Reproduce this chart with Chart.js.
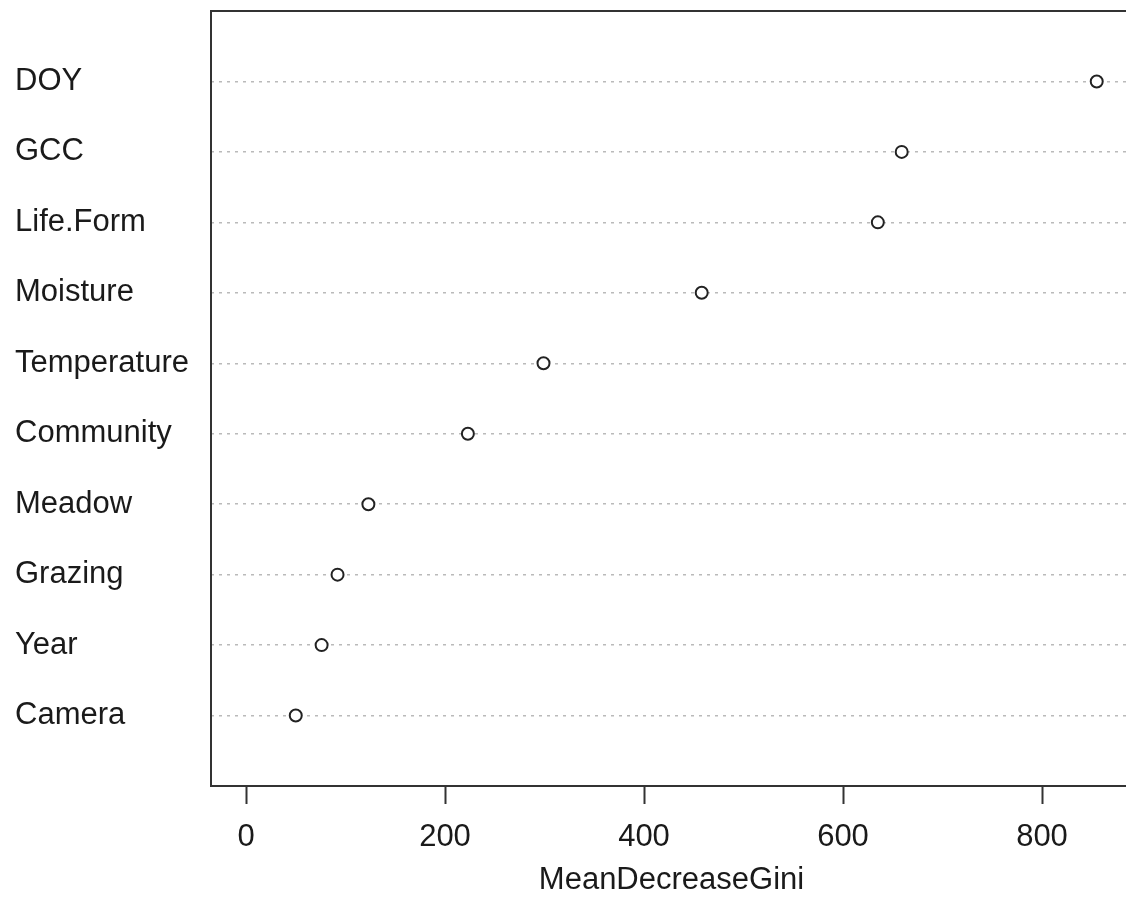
<!DOCTYPE html>
<html>
  <head>
    <meta charset="utf-8">
    <title>MeanDecreaseGini</title>
    <script src="https://cdn.jsdelivr.net/npm/chart.js@4.4.1/dist/chart.umd.min.js"></script>
    <style>
      html, body { margin: 0; padding: 0; background: #fff; overflow: hidden; }
      #wrap { width: 1140px; height: 901px; }
    </style>
  </head>
  <body>
    <div id="wrap"><canvas id="gini" width="1140" height="901" style="width:1140px;height:901px"></canvas></div>

    <script type="text/javascript">
      // variables, bottom to top as in the dotchart
      var variables = ["Camera", "Year", "Grazing", "Meadow", "Community",
                       "Temperature", "Moisture", "Life.Form", "GCC", "DOY"];
      var giniValues = [50, 76, 92, 123, 223, 299, 458, 635, 659, 855];
      var xTicks = [0, 200, 400, 600, 800];

      var FONT = "'Liberation Sans', Arial, sans-serif";
      var TEXT = "#1a1a1a";
      // pixel of x = 0 and pixels per unit in the original plot
      var X0_PX = 246;
      var PX_PER_UNIT = 0.995;

      var points = [];
      for (var i = 0 ; i != variables.length ; ++i) {
        points.push({x: giniValues[i], y: i + 1});
      }

      // plot box around the chart area, like R's box()
      var boxPlugin = {
        id: "box",
        afterDraw: function(chart) {
          var a = chart.chartArea;
          var ctx = chart.ctx;
          ctx.save();
          ctx.strokeStyle = "#333";
          ctx.lineWidth = 2;
          ctx.strokeRect(a.left, a.top, a.right - a.left, a.bottom - a.top);
          ctx.restore();
        }
      };

      function noPadding(scale) {
        scale.paddingTop = 0;
        scale.paddingBottom = 0;
        scale.paddingLeft = 0;
        scale.paddingRight = 0;
      }

      var chart = new Chart(document.getElementById("gini"), {
        type: "scatter",
        data: {
          datasets: [{
            data: points,
            pointRadius: 6,
            pointHoverRadius: 6,
            pointBackgroundColor: "#fff",
            pointBorderColor: "#222",
            pointBorderWidth: 2
          }]
        },
        options: {
          responsive: false,
          animation: false,
          events: [],
          layout: {padding: {left: 15, top: 11, right: 0, bottom: 0}},
          plugins: {legend: {display: false}, tooltip: {enabled: false}},
          scales: {
            x: {
              type: "linear",
              min: -35,
              max: 886,
              afterBuildTicks: function(scale) {
                scale.ticks = xTicks.map(function(v) { return {value: v}; });
              },
              afterFit: function(scale) { scale.height = 115; noPadding(scale); },
              border: {display: false},
              grid: {
                drawOnChartArea: false,
                drawTicks: true,
                tickLength: 18,
                tickWidth: 2,
                tickColor: "#333"
              },
              ticks: {
                color: TEXT,
                padding: 15,
                maxRotation: 0,
                font: {family: FONT, size: 31}
              },
              title: {
                display: true,
                text: "MeanDecreaseGini",
                color: TEXT,
                padding: {top: 0, bottom: 2},
                font: {family: FONT, size: 31}
              }
            },
            y: {
              type: "linear",
              min: 0,
              max: 11,
              afterBuildTicks: function(scale) {
                scale.ticks = variables.map(function(v, i) { return {value: i + 1}; });
              },
              afterFit: function(scale) { scale.width = 196; noPadding(scale); },
              // dotted reference lines (lty = 3)
              border: {display: false, dash: [3, 5]},
              grid: {
                drawTicks: false,
                tickLength: 0,
                color: "#bababa",
                lineWidth: 1.5
              },
              ticks: {
                crossAlign: "far",
                color: TEXT,
                font: {family: FONT, size: 31},
                callback: function(value) { return variables[value - 1] || ""; }
              }
            }
          }
        },
        plugins: [boxPlugin]
      });

      // match the original x scale to whatever chart area we got
      var area = chart.chartArea;
      chart.options.scales.x.min = (area.left - X0_PX) / PX_PER_UNIT;
      chart.options.scales.x.max = (area.right - X0_PX) / PX_PER_UNIT;
      chart.update();
    </script>
  </body>
</html>
